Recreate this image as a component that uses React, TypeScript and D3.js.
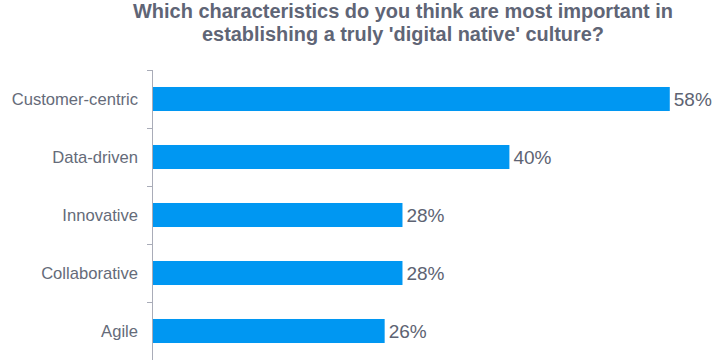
import React, { useEffect, useRef } from "react";
import * as d3 from "d3";

const titleLines = [
  "Which characteristics do you think are most important in",
  "establishing a truly 'digital native' culture?",
];
const categories = ["Customer-centric", "Data-driven", "Innovative", "Collaborative", "Agile"];
const values = [58, 40, 28, 28, 26];

const width = 726;
const height = 360;
const margin = { top: 70, left: 152, bottom: 0 };

export default function App() {
  const ref = useRef<SVGSVGElement>(null);

  useEffect(() => {
    const svg = d3.select(ref.current);
    svg.selectAll("*").remove();

    const x = d3.scaleLinear().domain([0, 60]).range([margin.left, margin.left + 534.6]);
    const y = d3
      .scaleBand<string>()
      .domain(categories)
      .range([margin.top, height - margin.bottom])
      .paddingInner(0.586)
      .paddingOuter(0.293);

    // title
    svg
      .append("g")
      .selectAll("text")
      .data(titleLines)
      .enter()
      .append("text")
      .attr("x", 403)
      .attr("y", (d, i) => 18 + i * 23)
      .attr("text-anchor", "middle")
      .attr("font-family", "'Liberation Sans', Arial, sans-serif")
      .attr("font-weight", "bold")
      .attr("font-size", 20)
      .attr("fill", "#5f6576")
      .attr("textLength", (d, i) => (i === 0 ? 540 : 402))
      .attr("lengthAdjust", "spacingAndGlyphs")
      .text((d) => d);

    // bars
    svg
      .append("g")
      .selectAll("rect")
      .data(values)
      .enter()
      .append("rect")
      .attr("x", x(0) + 1)
      .attr("y", (d, i) => y(categories[i])!)
      .attr("width", (d) => x(d) - x(0))
      .attr("height", y.bandwidth())
      .attr("fill", "#0097f2");

    // value labels
    svg
      .append("g")
      .selectAll("text")
      .data(values)
      .enter()
      .append("text")
      .attr("x", (d) => x(d) + 5)
      .attr("y", (d, i) => y(categories[i])! + y.bandwidth() / 2)
      .attr("dy", "0.36em")
      .attr("font-family", "'Liberation Sans', Arial, sans-serif")
      .attr("font-size", 19)
      .attr("fill", "#5d6372")
      .text((d) => d + "%");

    // category axis, ticks at band edges
    const edge = y.step() * y.paddingInner() / 2;
    const bounds = categories.map((c) => y(c)! - edge).concat([height - margin.bottom]);
    const axis = svg.append("g").attr("stroke", "#a9acb8").attr("stroke-width", 1);
    axis
      .append("line")
      .attr("x1", margin.left + 0.5)
      .attr("x2", margin.left + 0.5)
      .attr("y1", bounds[0])
      .attr("y2", bounds[bounds.length - 1]);
    axis
      .selectAll("line.tick")
      .data(bounds)
      .enter()
      .append("line")
      .attr("class", "tick")
      .attr("x1", margin.left - 5)
      .attr("x2", margin.left)
      .attr("y1", (d) => Math.round(d) + 0.5)
      .attr("y2", (d) => Math.round(d) + 0.5);

    svg
      .append("g")
      .selectAll("text")
      .data(categories)
      .enter()
      .append("text")
      .attr("x", margin.left - 14)
      .attr("y", (d) => y(d)! + y.bandwidth() / 2)
      .attr("dy", "0.36em")
      .attr("text-anchor", "end")
      .attr("font-family", "'Liberation Sans', Arial, sans-serif")
      .attr("font-size", 16.6)
      .attr("fill", "#656b79")
      .text((d) => d);
  }, []);

  return (
    <svg
      ref={ref}
      width={width}
      height={height}
      style={{ position: "absolute", left: 0, top: 0, background: "#fff" }}
    />
  );
}
